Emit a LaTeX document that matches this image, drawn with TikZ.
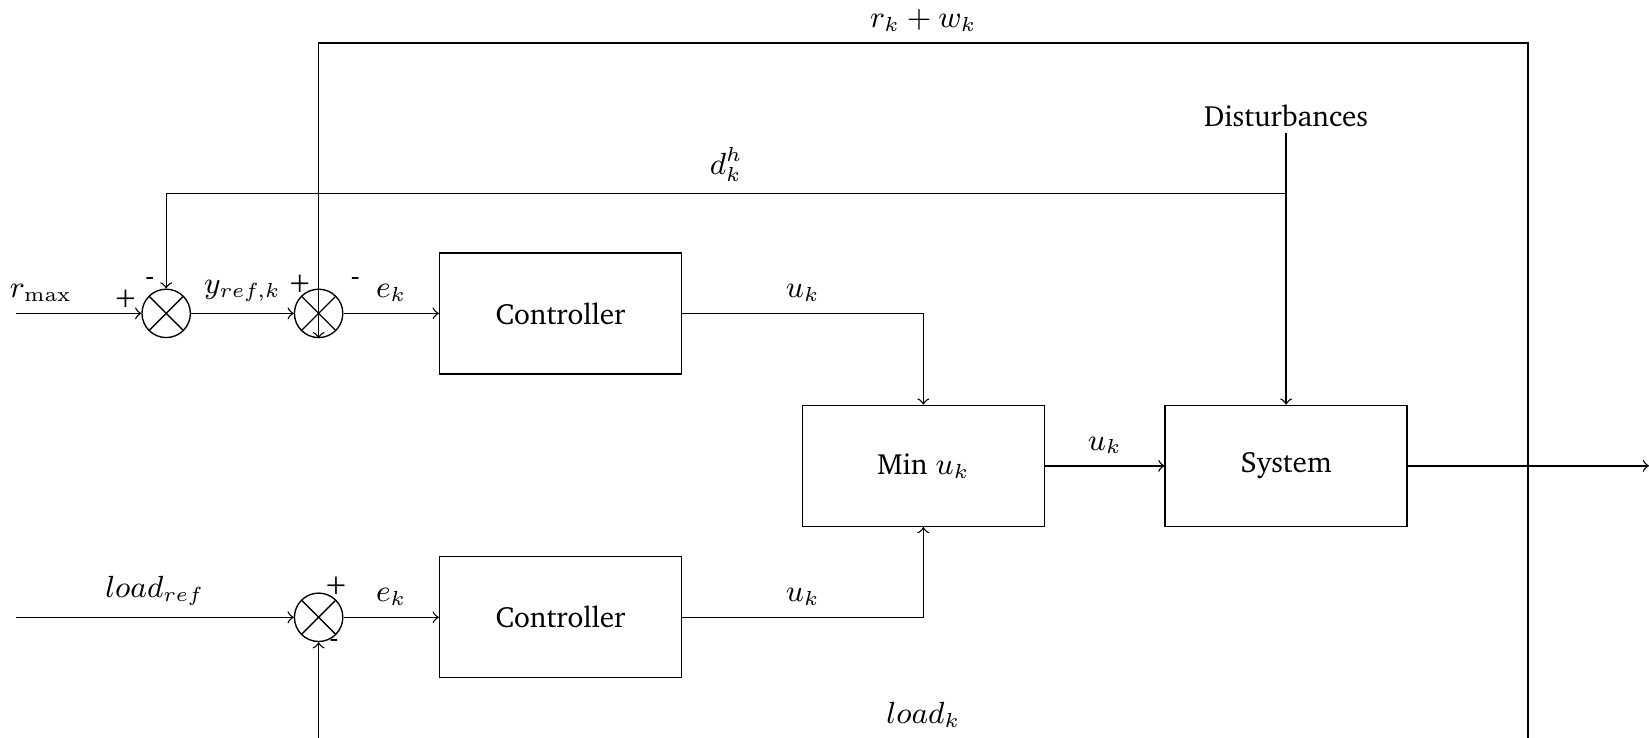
\documentclass[tikz,border=0pt]{standalone}
\usepackage[T1]{fontenc}
\usepackage{charter}
\usetikzlibrary{positioning}

\tikzset{
    every node/.append style={font=\fontsize{8.6}{10.3}\selectfont},
    block/.style={draw, minimum width=2.5cm, minimum height=1.25cm},
    sum/.style={draw, circle, minimum size=0.5cm, inner sep=0pt,
        path picture={
            \draw (path picture bounding box.south west) -- (path picture bounding box.north east);
            \draw (path picture bounding box.north west) -- (path picture bounding box.south east);
        }},
}

\begin{document}
\begin{tikzpicture}
        \useasboundingbox (-1.717,-4.379) rectangle (15.32,3.238);

        % Nodes
        \node[sum] (sum1) at (0, 0) {};
        \node[sum] (sum2) at (1.575, 0) {};
        \node[block] (ctrl1) at (4.074, 0) {Controller};
        \node[block] (minu) at (7.823, -1.575) {Min $u_k$};
        \node[block] (sys) at (11.571, -1.575) {System};
        \node[sum] (sum3) at (1.575, -3.14) {};
        \node[block] (ctrl2) at (4.074, -3.14) {Controller};
        \node[inner sep=1.5pt] (dist) at (11.571, 2.04) {Disturbances};

        \coordinate (rin) at (-1.554, 0);
        \coordinate (loadin) at (-1.554, -3.14);
        \coordinate (out) at (15.32, -1.575);
        \coordinate (fb) at (14.07, -1.575);
        \coordinate (fbtop) at (14.07, 2.792);
        \coordinate (fbbot) at (14.07, -4.4);
        \coordinate (dbranch) at (11.571, 1.239);

        % Arrows
        \draw[->] (rin) -- node[above, pos=0.2] {$r_{\max}$} (sum1);
        \draw[->] (sum1) -- node[above] {$y_{ref,k}$} (sum2);
        \draw[->] (sum2) -- node[above] {$e_k$} (ctrl1);
        \draw[->] (ctrl1) -| node[above, pos=0.25] {$u_k$} (minu);
        \draw[->] (minu) -- node[above] {$u_k$} (sys);
        \draw[->] (sys) -- (out);
        \draw[->] (loadin) -- node[above] {$load_{ref}$} (sum3);
        \draw[->] (sum3) -- node[above] {$e_k$} (ctrl2);
        \draw[->] (ctrl2) -| node[above, pos=0.25] {$u_k$} (minu);
        \draw[->] (dist) -- (sys);
        \draw[->] (dbranch) -| node[above, pos=0.25] {$d_k^h$} (sum1);
        \draw[->] (fb) -- (fbtop) -- node[above] {$r_k + w_k$} (fbtop -| sum2) -- (sum2.south);
        \draw[->] (fb) -- (fbbot) -- node[above] {$load_k$} (fbbot -| sum3) -- (sum3);

        % Signs
        \node (s1p) at (-0.42, 0.15) {+};
        \node (s1m) at (-0.17, 0.33) {-};
        \node (s2p) at (1.38, 0.31) {+};
        \node (s2m) at (1.955, 0.33) {-};
        \node (s3p) at (1.755, -2.81) {+};
        \node (s3m) at (1.735, -3.41) {-};
    \end{tikzpicture}
\end{document}
